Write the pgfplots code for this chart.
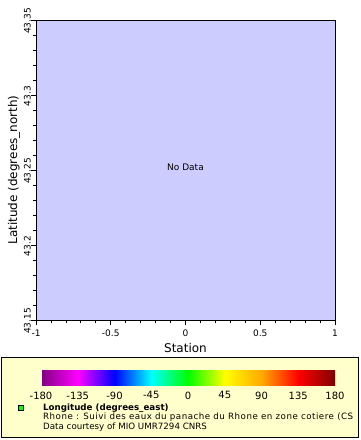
\documentclass[border=0pt]{standalone}
\usepackage{pgfplots}
\pgfplotsset{compat=1.18}
\usepackage{fontspec}
\setmainfont{DejaVu Sans}
\definecolor{bgc}{RGB}{204,204,255}
\definecolor{legbg}{RGB}{255,255,204}
\definecolor{mk}{RGB}{0,255,0}
\pgfplotsset{colormap={rb2}{rgb255=(128,0,128) rgb255=(255,0,255) rgb255=(0,0,255) rgb255=(0,255,255) rgb255=(0,255,0) rgb255=(255,255,0) rgb255=(255,170,0) rgb255=(255,0,0) rgb255=(128,0,0)}}
\begin{document}
\begin{tikzpicture}[x=1pt,y=1pt]
\path[use as bounding box] (0,0) rectangle (360,440);
% legend box
\draw[line width=1pt, fill=legbg] (1,2) rectangle (358,82);
\begin{axis}[
  at={(36pt,120pt)}, anchor=south west,
  width=299pt, height=300pt, scale only axis,
  xmin=-1, xmax=1, ymin=43.15, ymax=43.35,
  xtick={-1,-0.5,0,0.5,1},
  xticklabels={-1,-0.5,0,0.5,1},
  ytick={43.15,43.2,43.25,43.3,43.35},
  yticklabels={43.15,43.2,43.25,43.3,43.35},
  minor tick num=4,
  tick align=outside,
  xtick pos=left, ytick pos=left,
  major tick length=5pt, minor tick length=3pt,
  every tick/.style={black, line width=0.8pt},
  axis line style={line width=0.9pt},
  axis background/.style={fill=bgc},
  tick label style={font=\fontsize{9}{10}\selectfont},
  xticklabel style={anchor=north, inner sep=0pt, yshift=-4.5pt},
  yticklabel style={rotate=90, anchor=south, inner sep=0pt, xshift=-1pt},
  xlabel={Station},
  ylabel={Latitude (degrees\_north)},
  label style={font=\fontsize{12}{14}\selectfont},
  xlabel style={at={(axis description cs:0.5,-0.0923)}, anchor=center},
  ylabel style={at={(axis description cs:-0.0736,0.5)}, anchor=center, rotate=0},
  colormap name=rb2,
  point meta min=-180, point meta max=180,
  colorbar horizontal,
  colorbar style={
    at={(0.5084,-0.16667)}, anchor=north,
    width=294pt, height=15pt, scale only axis,
    xtick={-180,-135,-90,-45,0,45,90,135,180},
    xticklabels={-180,-135,-90,-45,0,45,90,135,180},
    major tick length=0pt, minor tick num=0,
    axis line style={draw=none},
    xticklabel style={font=\fontsize{10}{11}\selectfont, anchor=north, inner sep=0pt, yshift=-6.5pt},
  },
]
\node[font=\fontsize{9}{10}\selectfont] at (axis cs:0,43.252) {No Data};
\end{axis}
% legend contents
\draw[line width=0.6pt, fill=mk] (18.5,29.5) rectangle (23.5,34.5);
\node[anchor=base west, inner sep=0pt, font=\fontsize{8.7}{9}\selectfont\bfseries] at (43,29) {Longitude (degrees\_east)};
\node[anchor=base west, inner sep=0pt, font=\fontsize{8.7}{9}\selectfont\addfontfeatures{LetterSpace=5.5}] at (43,20) {Rhone : Suivi des eaux du panache du Rhone en zone cotiere (CS};
\node[anchor=base west, inner sep=0pt, font=\fontsize{8.7}{9}\selectfont] at (43,11) {Data courtesy of MIO UMR7294 CNRS};
\draw[line width=1pt] (1,2) rectangle (358,82);
\end{tikzpicture}
\end{document}
